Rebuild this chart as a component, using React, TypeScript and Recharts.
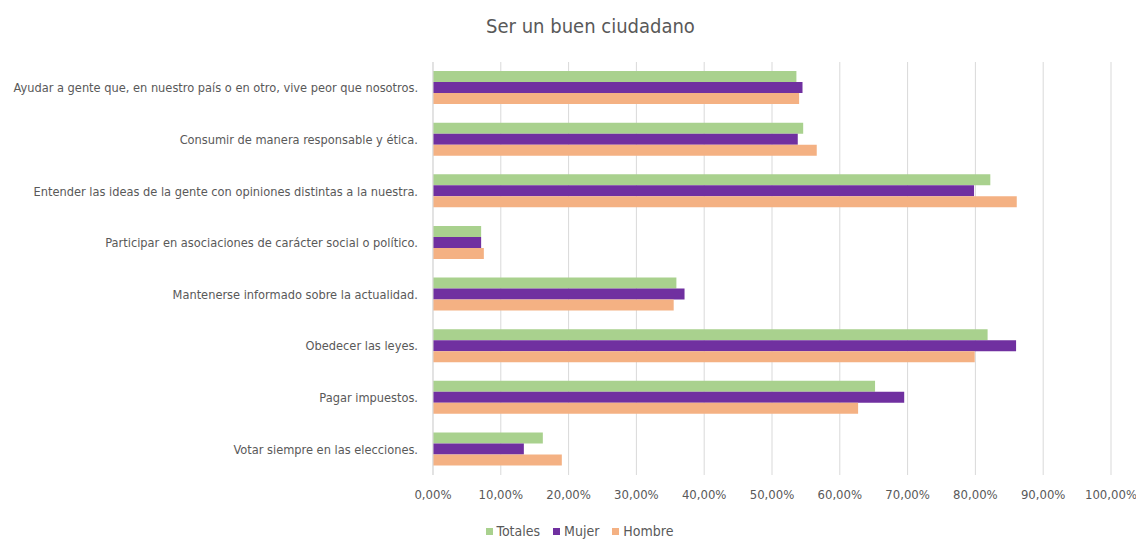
import React from 'react';
import { BarChart, Bar, XAxis, YAxis, CartesianGrid, Legend } from 'recharts';

const categories = [
  'Ayudar a gente que, en nuestro país o en otro, vive peor que nosotros.',
  'Consumir de manera responsable y ética.',
  'Entender las ideas de la gente con opiniones distintas a la nuestra.',
  'Participar en asociaciones de carácter social o político.',
  'Mantenerse informado sobre la actualidad.',
  'Obedecer las leyes.',
  'Pagar impuestos.',
  'Votar siempre en las elecciones.',
];

const totales = [53.6, 54.6, 82.2, 7.1, 35.9, 81.8, 65.2, 16.2];
const mujer = [54.5, 53.8, 79.8, 7.1, 37.1, 86.0, 69.5, 13.4];
const hombre = [54.0, 56.6, 86.1, 7.5, 35.5, 79.9, 62.7, 19.0];

const xTicks = [0, 10, 20, 30, 40, 50, 60, 70, 80, 90, 100];

const data = categories.map((name, i) => ({
  name,
  totales: totales[i],
  mujer: mujer[i],
  hombre: hombre[i],
}));

const FONT = '"Liberation Sans Narrow", "DejaVu Sans Condensed", "Liberation Sans", sans-serif';
const TEXT = '#595959';

const series = [
  { key: 'totales', label: 'Totales', color: '#A9D18E' },
  { key: 'mujer', label: 'Mujer', color: '#7030A0' },
  { key: 'hombre', label: 'Hombre', color: '#F4B183' },
];

const fmt = (v: number) => v.toFixed(2).replace('.', ',') + '%';

// plain text tick so long labels stay on one line
const CategoryTick = (props: any) => {
  const { x, y, payload } = props;
  return (
    <text x={x} y={y} dy="0.35em" textAnchor="end" fill={TEXT} fontSize={12.7} fontFamily={FONT}>
      {payload.value}
    </text>
  );
};

const LegendContent = () => (
  <div style={{ display: 'flex', justifyContent: 'center', fontFamily: FONT, fontSize: 14, color: TEXT }}>
    {series.map((s) => (
      <div key={s.key} style={{ display: 'flex', alignItems: 'center', marginRight: 13 }}>
        <span style={{ width: 7, height: 7, background: s.color, display: 'inline-block', marginRight: 4 }} />
        <span>{s.label}</span>
      </div>
    ))}
  </div>
);

export default function App() {
  return (
    <div style={{ position: 'relative', width: 1136, height: 540, background: '#fff' }}>
      <style>{`body{margin:0}`}</style>
      <div
        style={{
          position: 'absolute',
          top: 14,
          left: 0,
          width: 1181,
          textAlign: 'center',
          fontFamily: FONT,
          fontSize: 20,
          color: TEXT,
        }}
      >
        Ser un buen ciudadano
      </div>
      <BarChart
        width={1136}
        height={540}
        data={data}
        layout="vertical"
        margin={{ top: 62, right: 25, bottom: 35, left: 0 }}
        barCategoryGap="18%"
        barGap={0}
      >
        <CartesianGrid horizontal={false} stroke="#D9D9D9" />
        <XAxis
          type="number"
          domain={[0, 100]}
          ticks={xTicks}
          tickFormatter={fmt}
          axisLine={false}
          tickLine={false}
          tickMargin={9}
          height={30}
          tick={{ fill: TEXT, fontSize: 13, fontFamily: FONT }}
          interval={0}
        />
        <YAxis
          type="category"
          dataKey="name"
          width={433}
          axisLine={{ stroke: '#D9D9D9' }}
          tickLine={false}
          tickMargin={9}
          interval={0}
          tick={<CategoryTick />}
        />
        <Legend
          verticalAlign="middle"
          align="center"
          content={<LegendContent />}
          wrapperStyle={{ top: 523, left: 0, width: 1172 }}
        />
        {series.map((s) => (
          <Bar key={s.key} dataKey={s.key} name={s.label} fill={s.color} barSize={11} isAnimationActive={false} />
        ))}
      </BarChart>
    </div>
  );
}
